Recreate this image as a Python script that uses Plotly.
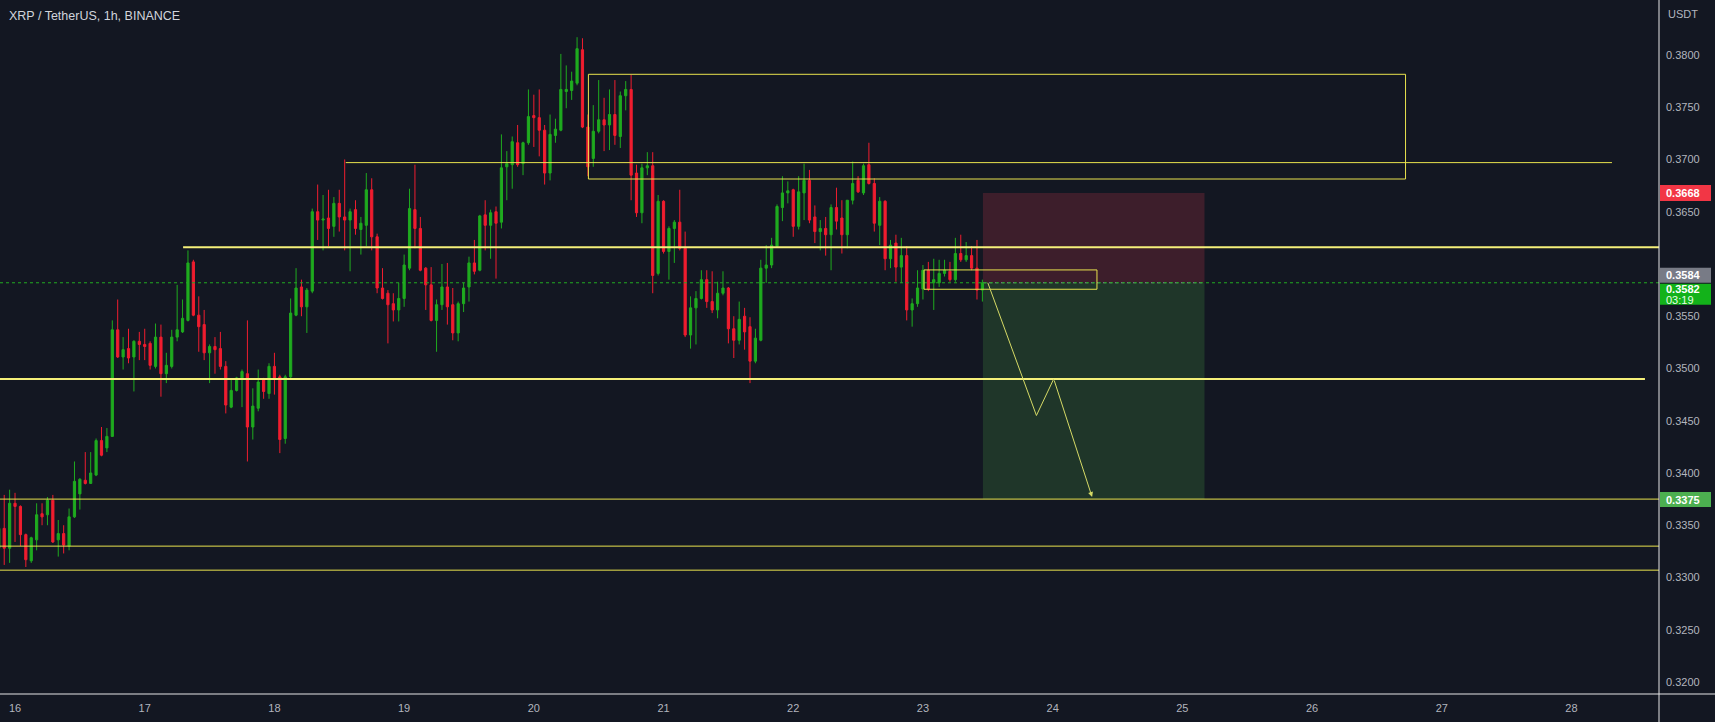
import plotly.graph_objects as go

# ---------------- data (hours since the 16th, 00:00) ----------------
hours = list(range(-3, 180))

opens = [
    0.3328, 0.3347, 0.3328, 0.3371, 0.3368, 0.3341, 0.3316, 0.3336, 0.3361, 0.3360,
    0.3374, 0.3336, 0.3342, 0.3330, 0.3358, 0.3380, 0.3393, 0.3390, 0.3398, 0.3431,
    0.3424, 0.3435, 0.3537, 0.3511, 0.3519, 0.3511, 0.3526, 0.3523, 0.3524, 0.3502,
    0.3530, 0.3495, 0.3502, 0.3530, 0.3535, 0.3546, 0.3602, 0.3551, 0.3542, 0.3515,
    0.3521, 0.3519, 0.3502, 0.3463, 0.3479, 0.3491, 0.3495, 0.3444, 0.3462, 0.3489,
    0.3476, 0.3502, 0.3492, 0.3433, 0.3492, 0.3551, 0.3578, 0.3559, 0.3574, 0.3650,
    0.3642, 0.3644, 0.3636, 0.3658, 0.3645, 0.3642, 0.3652, 0.3633, 0.3637, 0.3671,
    0.3626, 0.3577, 0.3572, 0.3562, 0.3556, 0.3567, 0.3596, 0.3652, 0.3634, 0.3596,
    0.3580, 0.3546, 0.3561, 0.3578, 0.3561, 0.3534, 0.3562, 0.3578, 0.3601, 0.3594,
    0.3647, 0.3637, 0.3650, 0.3640, 0.3693, 0.3695, 0.3716, 0.3696, 0.3716, 0.3742,
    0.3740, 0.3728, 0.3687, 0.3723, 0.3728, 0.3765, 0.3766, 0.3773, 0.3805, 0.3731,
    0.3701, 0.3727, 0.3738, 0.3733, 0.3743, 0.3722, 0.3761, 0.3767, 0.3687, 0.3649,
    0.3692, 0.3694, 0.3591, 0.3660, 0.3612, 0.3634, 0.3640, 0.3615, 0.3532, 0.3558,
    0.3567, 0.3585, 0.3564, 0.3556, 0.3572, 0.3577, 0.3538, 0.3527, 0.3550, 0.3540,
    0.3507, 0.3527, 0.3596, 0.3599, 0.3617, 0.3654, 0.3668, 0.3671, 0.3636, 0.3668,
    0.3680, 0.3645, 0.3631, 0.3634, 0.3628, 0.3654, 0.3644, 0.3628, 0.3661, 0.3680,
    0.3668, 0.3695, 0.3677, 0.3637, 0.3660, 0.3605, 0.3620, 0.3597, 0.3608, 0.3556,
    0.3562, 0.3576, 0.3594, 0.3582, 0.3582, 0.3591, 0.3593, 0.3585, 0.3610, 0.3604,
    0.3608, 0.3596, 0.3575,
]
highs = [
    0.3360, 0.3379, 0.3384, 0.3381, 0.3369, 0.3342, 0.3339, 0.3371, 0.3371, 0.3377,
    0.3379, 0.3355, 0.3350, 0.3366, 0.3411, 0.3395, 0.3420, 0.3420, 0.3433, 0.3444,
    0.3443, 0.3546, 0.3566, 0.3530, 0.3538, 0.3527, 0.3535, 0.3538, 0.3526, 0.3543,
    0.3542, 0.3515, 0.3537, 0.3580, 0.3566, 0.3613, 0.3604, 0.3569, 0.3556, 0.3523,
    0.3530, 0.3535, 0.3507, 0.3489, 0.3492, 0.3499, 0.3546, 0.3481, 0.3499, 0.3491,
    0.3505, 0.3515, 0.3494, 0.3494, 0.3567, 0.3596, 0.3585, 0.3577, 0.3653, 0.3676,
    0.3666, 0.3671, 0.3664, 0.3671, 0.3700, 0.3653, 0.3661, 0.3645, 0.3687, 0.3682,
    0.3629, 0.3596, 0.3575, 0.3572, 0.3582, 0.3609, 0.3672, 0.3695, 0.3645, 0.3597,
    0.3597, 0.3566, 0.3600, 0.3601, 0.3577, 0.3564, 0.3582, 0.3607, 0.3623, 0.3647,
    0.3661, 0.3652, 0.3655, 0.3724, 0.3708, 0.3722, 0.3733, 0.3717, 0.3767, 0.3762,
    0.3767, 0.3733, 0.3743, 0.3739, 0.3801, 0.3790, 0.3784, 0.3817, 0.3816, 0.3743,
    0.3752, 0.3776, 0.3759, 0.3767, 0.3776, 0.3765, 0.3775, 0.3781, 0.3695, 0.3696,
    0.3707, 0.3707, 0.3666, 0.3661, 0.3636, 0.3642, 0.3671, 0.3631, 0.3569, 0.3574,
    0.3594, 0.3594, 0.3593, 0.3583, 0.3593, 0.3578, 0.3550, 0.3564, 0.3558, 0.3549,
    0.3538, 0.3604, 0.3618, 0.3625, 0.3657, 0.3684, 0.3679, 0.3672, 0.3684, 0.3696,
    0.3690, 0.3656, 0.3642, 0.3645, 0.3657, 0.3673, 0.3661, 0.3661, 0.3698, 0.3684,
    0.3696, 0.3716, 0.3682, 0.3664, 0.3661, 0.3623, 0.3628, 0.3625, 0.3617, 0.3567,
    0.3594, 0.3599, 0.3602, 0.3605, 0.3604, 0.3604, 0.3602, 0.3625, 0.3628, 0.3621,
    0.3617, 0.3623, 0.3585,
]
lows = [
    0.3320, 0.3312, 0.3314, 0.3334, 0.3330, 0.3310, 0.3314, 0.3326, 0.3350, 0.3350,
    0.3333, 0.3320, 0.3323, 0.3326, 0.3357, 0.3365, 0.3389, 0.3390, 0.3397, 0.3416,
    0.3420, 0.3435, 0.3510, 0.3499, 0.3505, 0.3478, 0.3508, 0.3508, 0.3499, 0.3500,
    0.3473, 0.3486, 0.3500, 0.3526, 0.3534, 0.3545, 0.3550, 0.3516, 0.3508, 0.3486,
    0.3495, 0.3499, 0.3457, 0.3462, 0.3478, 0.3463, 0.3411, 0.3432, 0.3459, 0.3471,
    0.3471, 0.3475, 0.3419, 0.3428, 0.3491, 0.3550, 0.3550, 0.3534, 0.3572, 0.3623,
    0.3613, 0.3617, 0.3626, 0.3631, 0.3613, 0.3593, 0.3628, 0.3609, 0.3617, 0.3613,
    0.3572, 0.3566, 0.3524, 0.3545, 0.3545, 0.3559, 0.3594, 0.3615, 0.3593, 0.3556,
    0.3545, 0.3516, 0.3556, 0.3542, 0.3527, 0.3526, 0.3554, 0.3564, 0.3590, 0.3593,
    0.3613, 0.3605, 0.3586, 0.3634, 0.3661, 0.3672, 0.3693, 0.3685, 0.3714, 0.3712,
    0.3703, 0.3676, 0.3680, 0.3716, 0.3727, 0.3749, 0.3757, 0.3771, 0.3730, 0.3684,
    0.3693, 0.3725, 0.3708, 0.3709, 0.3714, 0.3711, 0.3747, 0.3661, 0.3645, 0.3639,
    0.3685, 0.3572, 0.3589, 0.3610, 0.3585, 0.3601, 0.3613, 0.3530, 0.3519, 0.3523,
    0.3566, 0.3558, 0.3553, 0.3548, 0.3570, 0.3524, 0.3510, 0.3523, 0.3518, 0.3486,
    0.3505, 0.3526, 0.3582, 0.3596, 0.3617, 0.3641, 0.3658, 0.3626, 0.3633, 0.3642,
    0.3639, 0.3620, 0.3613, 0.3608, 0.3594, 0.3633, 0.3610, 0.3615, 0.3657, 0.3668,
    0.3666, 0.3676, 0.3631, 0.3618, 0.3594, 0.3596, 0.3583, 0.3582, 0.3546, 0.3540,
    0.3559, 0.3566, 0.3574, 0.3556, 0.3578, 0.3588, 0.3583, 0.3583, 0.3602, 0.3602,
    0.3594, 0.3566, 0.3564,
]
closes = [
    0.3347, 0.3328, 0.3371, 0.3368, 0.3341, 0.3317, 0.3338, 0.3360, 0.3358, 0.3374,
    0.3334, 0.3342, 0.3331, 0.3358, 0.3392, 0.3394, 0.3390, 0.3400, 0.3431, 0.3417,
    0.3435, 0.3537, 0.3511, 0.3518, 0.3510, 0.3526, 0.3523, 0.3521, 0.3503, 0.3530,
    0.3495, 0.3503, 0.3530, 0.3537, 0.3548, 0.3601, 0.3551, 0.3540, 0.3515, 0.3521,
    0.3518, 0.3502, 0.3465, 0.3479, 0.3491, 0.3497, 0.3444, 0.3464, 0.3487, 0.3478,
    0.3502, 0.3491, 0.3432, 0.3492, 0.3553, 0.3577, 0.3559, 0.3575, 0.3650, 0.3642,
    0.3643, 0.3634, 0.3658, 0.3645, 0.3642, 0.3650, 0.3634, 0.3639, 0.3671, 0.3626,
    0.3577, 0.3567, 0.3561, 0.3556, 0.3567, 0.3599, 0.3653, 0.3634, 0.3594, 0.3580,
    0.3546, 0.3561, 0.3578, 0.3559, 0.3534, 0.3562, 0.3577, 0.3601, 0.3593, 0.3646,
    0.3637, 0.3649, 0.3639, 0.3692, 0.3696, 0.3717, 0.3695, 0.3716, 0.3741, 0.3740,
    0.3728, 0.3687, 0.3724, 0.3729, 0.3767, 0.3767, 0.3775, 0.3806, 0.3731, 0.3693,
    0.3727, 0.3738, 0.3733, 0.3743, 0.3723, 0.3761, 0.3767, 0.3685, 0.3649, 0.3692,
    0.3694, 0.3589, 0.3660, 0.3612, 0.3634, 0.3640, 0.3615, 0.3532, 0.3558, 0.3567,
    0.3585, 0.3564, 0.3556, 0.3572, 0.3577, 0.3538, 0.3527, 0.3547, 0.3535, 0.3507,
    0.3529, 0.3596, 0.3599, 0.3618, 0.3655, 0.3668, 0.3670, 0.3636, 0.3669, 0.3680,
    0.3642, 0.3631, 0.3634, 0.3628, 0.3654, 0.3641, 0.3628, 0.3661, 0.3677, 0.3669,
    0.3694, 0.3677, 0.3639, 0.3660, 0.3605, 0.3618, 0.3597, 0.3608, 0.3556, 0.3562,
    0.3577, 0.3594, 0.3576, 0.3585, 0.3591, 0.3594, 0.3585, 0.3610, 0.3604, 0.3608,
    0.3596, 0.3575, 0.3582,
]

day_ticks = [0, 24, 48, 72, 96, 120, 144, 168, 192, 216, 240, 264, 288]
day_labels = ["16", "17", "18", "19", "20", "21", "22", "23", "24", "25", "26", "27", "28"]
price_ticks = [0.3200, 0.3250, 0.3300, 0.3350, 0.3400, 0.3450, 0.3500,
               0.3550, 0.3650, 0.3700, 0.3750, 0.3800]

# drawn levels / zones (price, hour)
zone_box = dict(x0=106.1, x1=257.3, y0=0.36813, y1=0.37815)
line_3697 = dict(x0=61.2, x1=295.5, y=0.3697)
line_3616 = dict(x0=31.1, y=0.3616)
line_3490 = dict(x1=301.6, y=0.3490)
thin_levels = [0.3375, 0.3330, 0.3307]
range_box = dict(x0=168.2, x1=200.2, y0=0.35758, y1=0.35943)
position = dict(x0=179.1, x1=220.1, entry=0.3582, stop=0.3668, target=0.3375)
path_hours = [180.0, 189.0, 192.2, 199.3]
path_prices = [0.3582, 0.3455, 0.3490, 0.3377]
last_price = 0.3582
prev_price = 0.3584
countdown = "03:19"

x_range = [-2.78, 304.2]
y_range = [0.31885, 0.38526]

BG = "#131722"
UP = "#1fab1f"
DOWN = "#f01d2f"
THICK = "#f5f07a"
THIN = "#e9e34e"
TXT = "#b2b5be"
FONT = "Liberation Sans"

PLOT_H = 722 - 28
PLOT_W = 1715 - 56
px = (y_range[1] - y_range[0]) / PLOT_H  # price per pixel

fig = go.Figure()
fig.add_trace(go.Candlestick(
    x=hours, open=opens, high=highs, low=lows, close=closes,
    increasing=dict(line=dict(color=UP, width=1), fillcolor=UP),
    decreasing=dict(line=dict(color=DOWN, width=1), fillcolor=DOWN),
    whiskerwidth=0, hoverinfo="skip", showlegend=False,
))

shapes = []
# position tool (below candles)
shapes.append(dict(type="rect", xref="x", yref="y", layer="below",
                   x0=position["x0"], x1=position["x1"],
                   y0=position["entry"], y1=position["stop"],
                   fillcolor="#3d1e2b", line=dict(width=0)))
shapes.append(dict(type="rect", xref="x", yref="y", layer="below",
                   x0=position["x0"], x1=position["x1"],
                   y0=position["target"], y1=position["entry"],
                   fillcolor="#1f3629", line=dict(width=0)))
shapes.append(dict(type="line", xref="x", yref="y", layer="below",
                   x0=position["x0"], x1=position["x1"],
                   y0=position["entry"], y1=position["entry"],
                   line=dict(color="#8a8d96", width=1, dash="dot")))
# current price line
shapes.append(dict(type="line", xref="paper", yref="y", x0=0, x1=1,
                   y0=last_price, y1=last_price,
                   line=dict(color="#22ab22", width=1, dash="dot")))
# zone box
shapes.append(dict(type="rect", xref="x", yref="y", **zone_box,
                   line=dict(color=THIN, width=1)))
# levels
shapes.append(dict(type="line", xref="x", yref="y",
                   x0=line_3697["x0"], x1=line_3697["x1"],
                   y0=line_3697["y"], y1=line_3697["y"],
                   line=dict(color=THIN, width=1)))
shapes.append(dict(type="line", xref="x", yref="y",
                   x0=line_3616["x0"], x1=x_range[1],
                   y0=line_3616["y"], y1=line_3616["y"],
                   line=dict(color=THICK, width=2)))
shapes.append(dict(type="line", xref="x", yref="y",
                   x0=x_range[0], x1=line_3490["x1"],
                   y0=line_3490["y"], y1=line_3490["y"],
                   line=dict(color=THICK, width=2)))
for lv in thin_levels:
    shapes.append(dict(type="line", xref="paper", yref="y", x0=0, x1=1,
                       y0=lv, y1=lv, line=dict(color=THIN, width=1)))
# range box
shapes.append(dict(type="rect", xref="x", yref="y", **range_box,
                   line=dict(color=THIN, width=1)))
# projected path
for i in range(len(path_hours) - 2):
    shapes.append(dict(type="line", xref="x", yref="y",
                       x0=path_hours[i], x1=path_hours[i + 1],
                       y0=path_prices[i], y1=path_prices[i + 1],
                       line=dict(color="#d6da66", width=1)))

annotations = [
    dict(x=path_hours[-1], y=path_prices[-1], ax=path_hours[-2], ay=path_prices[-2],
         xref="x", yref="y", axref="x", ayref="y", text="", showarrow=True,
         arrowhead=2, arrowsize=1, arrowwidth=1, arrowcolor="#d6da66"),
    dict(text="XRP / TetherUS, 1h, BINANCE", xref="paper", yref="paper", x=0, y=1,
         xanchor="left", yanchor="middle", xshift=7, yshift=-16, showarrow=False,
         font=dict(family=FONT, size=12.5, color="#d1d4dc")),
    dict(text="USDT", xref="paper", yref="paper", x=1, y=1, xanchor="left",
         yanchor="middle", xshift=7, yshift=-14, showarrow=False,
         font=dict(family=FONT, size=11, color=TXT)),
]

# price-scale labels: box (shape) + text (annotation)
lx0 = 1 + 1.0 / PLOT_W
lx1 = 1 + 52.0 / PLOT_W


def axis_label(price, text, color, top_px, bottom_px, text_color="#ffffff", sub=None):
    # top_px/bottom_px: box edges in pixels relative to the price (down = positive)
    shapes.append(dict(type="rect", xref="paper", yref="y", x0=lx0, x1=lx1,
                       y0=price - bottom_px * px, y1=price - top_px * px,
                       fillcolor=color, line=dict(width=0), layer="above"))
    if sub is None:
        centre = (top_px + bottom_px) / 2.0
        annotations.append(dict(text="<b>%s</b>" % text, xref="paper", yref="y",
                                x=1, y=price, xanchor="left", yanchor="middle",
                                xshift=5, yshift=-centre, showarrow=False,
                                font=dict(family=FONT, size=11, color=text_color)))
    else:
        annotations.append(dict(text="<b>%s</b>" % text, xref="paper", yref="y",
                                x=1, y=price, xanchor="left", yanchor="middle",
                                xshift=5, yshift=-(top_px + 5.5), showarrow=False,
                                font=dict(family=FONT, size=11, color=text_color)))
        annotations.append(dict(text=sub, xref="paper", yref="y",
                                x=1, y=price, xanchor="left", yanchor="middle",
                                xshift=5, yshift=-(top_px + 16), showarrow=False,
                                font=dict(family=FONT, size=11, color="#e8ffe8")))


axis_label(position["stop"], "%.4f" % position["stop"], "#f23645", -8, 8)
axis_label(prev_price, "%.4f" % prev_price, "#787b86", -13, 2)
axis_label(last_price, "%.4f" % last_price, "#13b21a", 1, 22, sub=countdown)
axis_label(position["target"], "%.4f" % position["target"], "#4caf50", -7, 8)

# axis borders (cross)
shapes.append(dict(type="line", xref="paper", yref="paper", x0=0, x1=1.04,
                   y0=0, y1=0, line=dict(color="#e6e6e6", width=1)))
shapes.append(dict(type="line", xref="paper", yref="paper", x0=1, x1=1,
                   y0=-0.05, y1=1, line=dict(color="#e6e6e6", width=1)))

fig.update_layout(
    width=1715, height=722, autosize=False,
    margin=dict(l=0, r=56, t=0, b=28),
    paper_bgcolor=BG, plot_bgcolor=BG,
    boxgap=0.42,
    shapes=shapes, annotations=annotations,
    showlegend=False, hovermode=False,
    xaxis=dict(range=x_range, showgrid=False, zeroline=False, showline=False,
               rangeslider=dict(visible=False), tickmode="array",
               tickvals=day_ticks, ticktext=day_labels, ticks="",
               ticklabelstandoff=6,
               tickfont=dict(family=FONT, size=11, color=TXT)),
    yaxis=dict(range=y_range, side="right", showgrid=False, zeroline=False,
               showline=False, tickmode="array", tickvals=price_ticks,
               ticktext=["%.4f" % t for t in price_ticks], ticks="",
               ticklabelstandoff=6,
               tickfont=dict(family=FONT, size=11, color=TXT)),
)

fig.write_html("out.html")
